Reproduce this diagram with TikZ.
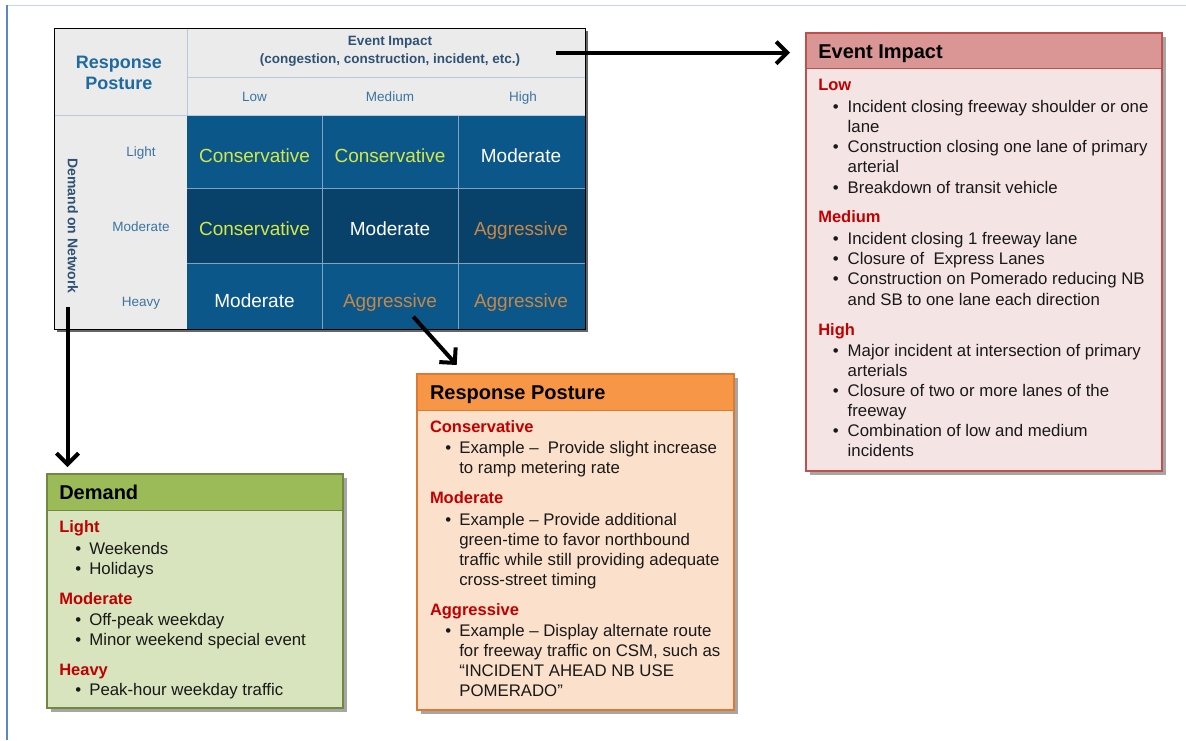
\documentclass[tikz,border=0pt]{standalone}
\usepackage{fontspec}
\setmainfont{Liberation Sans}
\usetikzlibrary{arrows.meta,shadows}
\definecolor{framec}{HTML}{C9D6E6}
\definecolor{leftc}{HTML}{5B88C4}
\definecolor{hdrgray}{HTML}{EBEBEB}
\definecolor{hline}{HTML}{B5CADD}
\definecolor{cellA}{HTML}{0B578A}
\definecolor{cellB}{HTML}{08426B}
\definecolor{gridc}{HTML}{7FA3C2}
\definecolor{rpblue}{HTML}{1F6AA0}
\definecolor{evtxt}{HTML}{2F5274}
\definecolor{lbl}{HTML}{3B74A3}
\definecolor{consc}{HTML}{D4E845}
\definecolor{aggc}{HTML}{C78746}
\definecolor{evhead}{HTML}{D99694}
\definecolor{evbody}{HTML}{F5E4E4}
\definecolor{evbord}{HTML}{C0504D}
\definecolor{rphead}{HTML}{F79646}
\definecolor{rpbody}{HTML}{FBE0CB}
\definecolor{rpbord}{HTML}{DD7A30}
\definecolor{dmhead}{HTML}{9BBB59}
\definecolor{dmbody}{HTML}{D7E4BD}
\definecolor{dmbord}{HTML}{71893F}
\definecolor{redh}{HTML}{C00000}
\newcommand{\myhead}[4]{\node[headf,anchor=base west] (#1) at (#2,#3) {#4};}
\newcommand{\mybul}[5]{\node[bodyf,anchor=base] (#1b) at (#2,#4) {•};\node[bodyf,anchor=base west] (#1) at (#3,#4) {#5};}
\newcommand{\mycont}[4]{\node[bodyf,anchor=base west] (#1) at (#2,#3) {#4};}
\begin{document}
\begin{tikzpicture}[x=1pt,y=-1pt,
  every node/.style={inner sep=0pt,outer sep=0pt},
  headf/.style={font=\fontsize{16.5}{20}\selectfont\bfseries,text=redh},
  bodyf/.style={font=\fontsize{16.8}{20}\selectfont,text=black!90},
  titlef/.style={font=\fontsize{20}{24}\selectfont\bfseries,text=black},
  cellf/.style={font=\fontsize{19}{22}\selectfont,anchor=base},
  lblf/.style={font=\fontsize{13.5}{16}\selectfont,text=lbl,anchor=base},
  shad/.style={drop shadow={shadow xshift=3.5pt,shadow yshift=-3.5pt,opacity=0.35,fill=black}},
  boxstyle/.style={anchor=north west,line width=1.1pt,shad},
  arr/.style={line width=4pt,-{Straight Barb[length=11pt,width=22pt]}}]
\useasboundingbox (0,0) rectangle (1186,740);
\fill[white] (0,0) rectangle (1186,740);
% frame
\draw[framec,line width=1pt] (7,5) -- (1186,5);
\draw[leftc,line width=1.5pt] (7,5) -- (7,740);
% matrix
\path[fill=hdrgray,drop shadow={shadow xshift=3pt,shadow yshift=-3pt,opacity=0.6,fill=black}] (54,28) rectangle (585,329);
\fill[cellA] (187,115) rectangle (585,188.7);
\fill[cellB] (187,188.7) rectangle (585,263);
\fill[cellA] (187,263) rectangle (585,329);
\draw[gridc,line width=0.9pt] (322,115)--(322,329) (458,115)--(458,329) (187,188.7)--(585,188.7) (187,263)--(585,263);
\draw[hline,line width=1pt] (187,28)--(187,115) (187,77)--(585,77) (54,115)--(585,115);
\draw[black,line width=0.9pt] (54,28) rectangle (585,329);
\node[font=\fontsize{18}{21}\selectfont\bfseries,text=rpblue,anchor=base] (rp1) at (118.8,68) {Response};
\node[font=\fontsize{18}{21}\selectfont\bfseries,text=rpblue,anchor=base] (rp2) at (118.8,89.7) {Posture};
\node[font=\fontsize{13.5}{16}\selectfont\bfseries,text=evtxt,anchor=base] (ei1) at (390,45.8) {Event Impact};
\node[font=\fontsize{13.5}{16}\selectfont\bfseries,text=evtxt,anchor=base] (ei2) at (390,63) {(congestion, construction, incident, etc.)};
\node[lblf] (cl) at (254.5,101) {Low};
\node[lblf] (cm) at (390,101) {Medium};
\node[lblf] (ch) at (523,101) {High};
\node[lblf] (rl) at (141,156.8) {Light};
\node[lblf] (rm) at (141,231.6) {Moderate};
\node[lblf] (rh) at (141,306.3) {Heavy};
\node[font=\fontsize{14}{16}\selectfont\bfseries,text=evtxt,rotate=-90] (don) at (72.8,226) {Demand on Network};
\node[cellf,text=consc] (c11) at (254.5,162) {Conservative};
\node[cellf,text=consc] (c12) at (390,162) {Conservative};
\node[cellf,text=white] (c13) at (521,162) {Moderate};
\node[cellf,text=consc] (c21) at (254.5,235) {Conservative};
\node[cellf,text=white] (c22) at (390,235) {Moderate};
\node[cellf,text=aggc] (c23) at (521,235) {Aggressive};
\node[cellf,text=white] (c31) at (254.5,307) {Moderate};
\node[cellf,text=aggc] (c32) at (390,307) {Aggressive};
\node[cellf,text=aggc] (c33) at (521,307) {Aggressive};
% Event Impact box
\node[boxstyle,draw=evbord,fill=evbody,minimum width=356pt,minimum height=438pt] (ev) at (806,33) {};
\node[anchor=north west,draw=evbord,line width=1.1pt,fill=evhead,minimum width=356pt,minimum height=35.5pt] (evh) at (806,33) {};
\node[titlef,anchor=base west] (evt) at (818.3,58.3) {Event Impact};
\myhead{e0}{818.3}{90.7}{Low}
\mybul{e1}{835.7}{847.7}{112.3}{Incident closing freeway shoulder or one}
\mycont{e2}{847.7}{132.3}{lane}
\mybul{e3}{835.7}{847.7}{152.3}{Construction closing one lane of primary}
\mycont{e4}{847.7}{172.7}{arterial}
\mybul{e5}{835.7}{847.7}{193}{Breakdown of transit vehicle}
\myhead{e6}{818.3}{222.7}{Medium}
\mybul{e7}{835.7}{847.7}{244}{Incident closing 1 freeway lane}
\mybul{e8}{835.7}{847.7}{264.3}{Closure of\ \ Express Lanes}
\mybul{e9}{835.7}{847.7}{284.3}{Construction on Pomerado reducing NB}
\mycont{e10}{847.7}{305}{and SB to one lane each direction}
\myhead{e11}{818.3}{335}{High}
\mybul{e12}{835.7}{847.7}{356}{Major incident at intersection of primary}
\mycont{e13}{847.7}{376}{arterials}
\mybul{e14}{835.7}{847.7}{396}{Closure of two or more lanes of the}
\mycont{e15}{847.7}{416.7}{freeway}
\mybul{e16}{835.7}{847.7}{436.7}{Combination of low and medium}
\mycont{e17}{847.7}{456.7}{incidents}
% Response Posture box
\node[boxstyle,draw=rpbord,fill=rpbody,minimum width=317pt,minimum height=336pt] (rp) at (417,374) {};
\node[anchor=north west,draw=rpbord,line width=1.1pt,fill=rphead,minimum width=317pt,minimum height=36.5pt] (rph) at (417,374) {};
\node[titlef,anchor=base west] (rpt) at (430,399.3) {Response Posture};
\myhead{r0}{430}{432.7}{Conservative}
\mybul{r1}{448.3}{459.3}{453.3}{Example --\ \ Provide slight increase}
\mycont{r2}{459.3}{473.3}{to ramp metering rate}
\myhead{r3}{430}{503.3}{Moderate}
\mybul{r4}{448.3}{459.3}{525}{Example -- Provide additional}
\mycont{r5}{459.3}{545}{green-time to favor northbound}
\mycont{r6}{459.3}{565}{traffic while still providing adequate}
\mycont{r7}{459.3}{585.7}{cross-street timing}
\myhead{r8}{430}{615}{Aggressive}
\mybul{r9}{448.3}{459.3}{636}{Example -- Display alternate route}
\mycont{r10}{459.3}{656.7}{for freeway traffic on CSM, such as}
\mycont{r11}{459.3}{676.7}{“INCIDENT AHEAD NB USE}
\mycont{r12}{459.3}{696.7}{POMERADO”}
% Demand box
\node[boxstyle,draw=dmbord,fill=dmbody,minimum width=296pt,minimum height=234pt] (dm) at (47,474) {};
\node[anchor=north west,draw=dmbord,line width=1.1pt,fill=dmhead,minimum width=296pt,minimum height=36.7pt] (dmh) at (47,474) {};
\node[titlef,anchor=base west] (dmt) at (59.3,499.3) {Demand};
\myhead{d0}{59.3}{532.7}{Light}
\mybul{d1}{78.3}{89.3}{554}{Weekends}
\mybul{d2}{78.3}{89.3}{574}{Holidays}
\myhead{d3}{59.3}{604.3}{Moderate}
\mybul{d4}{78.3}{89.3}{625}{Off-peak weekday}
\mybul{d5}{78.3}{89.3}{645}{Minor weekend special event}
\myhead{d6}{59.3}{675.7}{Heavy}
\mybul{d7}{78.3}{89.3}{695.7}{Peak-hour weekday traffic}
% arrows
\coordinate (a1s) at (556,52.7);
\coordinate (a2s) at (67.5,306.7);
\coordinate (a3s) at (413.3,316.7);
\coordinate (a3e) at (456.7,365);
\draw[arr,shorten >=16pt] (a1s) -- (a1s-|ev.west);
\draw[arr,shorten >=7pt] (a2s) -- (a2s|-dm.north);
\draw[arr] (a3s) -- (a3e);
\end{tikzpicture}
\end{document}
